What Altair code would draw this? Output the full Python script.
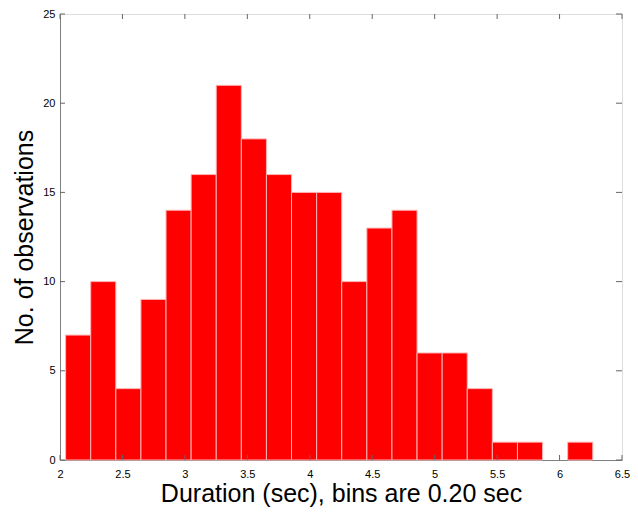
import altair as alt
import pandas as pd

bin_width = 0.201
first_edge = 2.045
counts = [7, 10, 4, 9, 14, 16, 21, 18, 16, 15, 15, 10, 13, 14, 6, 6, 4, 1, 1, 0, 1]
x_ticks = [2, 2.5, 3, 3.5, 4, 4.5, 5, 5.5, 6, 6.5]
y_ticks = [0, 5, 10, 15, 20, 25]

W, H = 562, 446
FONT = "Liberation Sans"

bars = pd.DataFrame({
    "start": [round(first_edge + i * bin_width, 4) for i in range(len(counts))],
    "end": [round(first_edge + (i + 1) * bin_width, 4) for i in range(len(counts))],
    "count": counts,
})
bars = bars[bars["count"] > 0]

xs = alt.Scale(domain=[2, 6.5], nice=False, zero=False)
ys = alt.Scale(domain=[0, 25], nice=False)

base = alt.Chart(bars).mark_rect(color="#ff0000", stroke="#ffb3b3", strokeWidth=1).encode(
    x=alt.X("start:Q", scale=xs,
            axis=alt.Axis(values=x_ticks, format="~g", title="Duration (sec), bins are 0.20 sec",
                          grid=False, tickSize=0, labelPadding=8, labelFontSize=11,
                          labelColor="black", domainColor="#808080",
                          titleFontSize=25, titleFontWeight="normal", titleColor="black",
                          titlePadding=2, labelFlush=False)),
    x2="end:Q",
    y=alt.Y("count:Q", scale=ys,
            axis=alt.Axis(values=y_ticks, title="No. of observations",
                          grid=False, tickSize=0, labelPadding=5, labelFontSize=11,
                          labelColor="black", domainColor="#808080",
                          titleFontSize=25, titleFontWeight="normal", titleColor="black",
                          titlePadding=5)),
    y2=alt.datum(0),
)

xt = pd.DataFrame({"v": x_ticks})
yt = pd.DataFrame({"v": y_ticks})

tick_color = "#666666"
xb = alt.Chart(xt).mark_rule(color=tick_color).encode(
    x=alt.X("v:Q", scale=xs), y=alt.value(H), y2=alt.value(H - 5))
xtop = alt.Chart(xt).mark_rule(color=tick_color).encode(
    x=alt.X("v:Q", scale=xs), y=alt.value(0), y2=alt.value(5))
yl = alt.Chart(yt).mark_rule(color=tick_color).encode(
    y=alt.Y("v:Q", scale=ys), x=alt.value(0), x2=alt.value(5))
yr = alt.Chart(yt).mark_rule(color=tick_color).encode(
    y=alt.Y("v:Q", scale=ys), x=alt.value(W), x2=alt.value(W - 6))

chart = alt.layer(base, xb, xtop, yl, yr).properties(
    width=W, height=H,
    autosize=alt.AutoSizeParams(type="none"),
    padding={"left": 52, "top": 6, "right": 8, "bottom": 47},
).configure_view(stroke="#808080", strokeWidth=1).configure(font=FONT)

chart.save("out.html", embed_options={"renderer": "svg", "actions": False})
